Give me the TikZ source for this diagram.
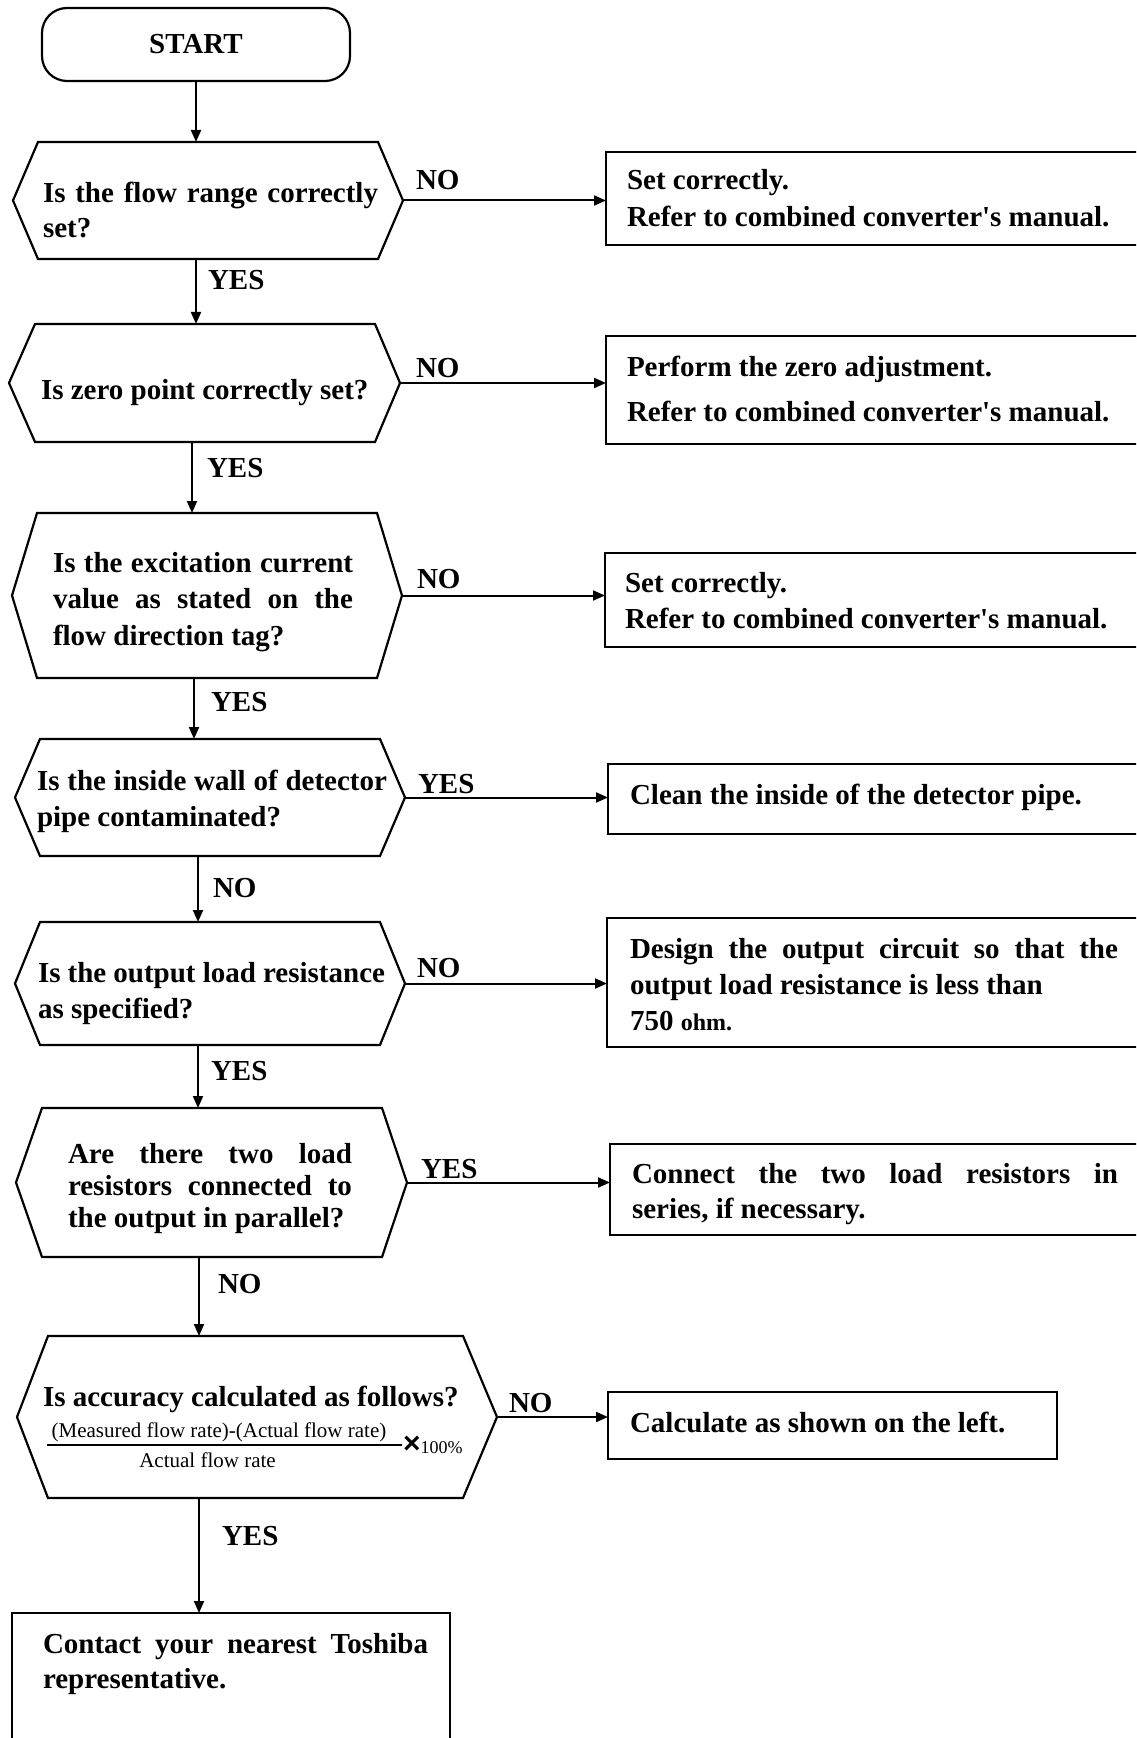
\documentclass[tikz,border=0pt]{standalone}
\usepackage{fontspec}
\setmainfont{Liberation Serif}
\newfontfamily\symfont{Liberation Sans}
\usetikzlibrary{arrows.meta,calc}
\newcommand\lsk[1]{\fontsize{14.5pt}{#1pt}\selectfont}
\newcommand\jl[2]{\makebox[#1pt][s]{#2}}
\newcommand\hexdec[7]{%
  \node[hexnode, minimum width=#4pt, minimum height=#5pt] (#1) at (#2,#3) {};
  \draw[shp] (#1.north west) -- (#1.north east) -- ($(#1.east)+(#7,0)$) coordinate (#1r)
    -- (#1.south east) -- (#1.south west) -- ($(#1.west)+(-#6,0)$) coordinate (#1l) -- cycle;}
\begin{document}
\begin{tikzpicture}[x=0.5pt,y=-0.5pt,
  shp/.style={draw=black, line width=1.1pt},
  hexnode/.style={inner sep=0pt, outer sep=0pt},
  boxnode/.style={draw=black, line width=1.1pt, inner sep=0pt, outer sep=0pt, anchor=north west},
  txt/.style={inner sep=0pt, outer sep=0pt, anchor=base west, font=\bfseries\fontsize{14.5pt}{18pt}\selectfont},
  small/.style={inner sep=0pt, outer sep=0pt, anchor=base, font=\fontsize{10.5pt}{12pt}\selectfont},
  arr/.style={line width=1pt, -{Triangle[length=6pt,width=5pt]}},
]
\useasboundingbox (0,0) rectangle (1136,1738);
\fill[white] (0,0) rectangle (1136,1738);
\clip (0,0) rectangle (1136,1738);

% start
\node[draw=black, line width=1.1pt, rounded corners=12.5pt, minimum width=154pt, minimum height=36.5pt,
      inner sep=0pt, outer sep=0pt, anchor=north west, font=\bfseries\fontsize{14.5pt}{18pt}\selectfont] (start) at (42,8) {START};

% decisions
\hexdec{d1}{208}{200.5}{170}{58.5}{25}{25}
\hexdec{d2}{205}{383}{170}{59}{26}{25}
\hexdec{d3}{207}{595.5}{170}{82.5}{25}{25}
\hexdec{d4}{210}{797.5}{170}{58.5}{25}{25}
\hexdec{d5}{210}{983.5}{170}{61.5}{25}{25}
\hexdec{d6}{212}{1182.5}{170}{74.5}{26}{25}
\hexdec{d7}{255.5}{1417}{207.5}{81}{31}{34}

% decision texts
\node[txt] (t1) at (43,203) {\lsk{17.5}\parbox[t]{167.5pt}{\jl{167.5}{Is the flow range correctly}\\set?}};
\node[txt] (t2) at (41,400) {Is zero point correctly set?};
\node[txt] (t3) at (53,572) {\lsk{18.25}\parbox[t]{150pt}{\jl{150}{Is the excitation current}\\\jl{150}{value as stated on the}\\flow direction tag?}};
\node[txt] (t4) at (37,790) {\lsk{18}\parbox[t]{175pt}{\jl{175}{Is the inside wall of detector}\\pipe contaminated?}};
\node[txt] (t5) at (38,982) {\lsk{18}\parbox[t]{173.5pt}{\jl{173.5}{Is the output load resistance}\\as specified?}};
\node[txt] (t6) at (68,1163) {\lsk{16}\parbox[t]{142pt}{\jl{142}{Are there two load}\\\jl{142}{resistors connected to}\\the output in parallel?}};
\node[txt] (t7) at (43,1406) {Is accuracy calculated as follows?};
\node[small] (num) at (219,1437) {(Measured flow rate)-(Actual flow rate)};
\draw[line width=1pt] (47,1445) -- (402,1445);
\node[small] (den) at (207.5,1467) {Actual flow rate};
\node[inner sep=0pt, outer sep=0pt, anchor=base west] (pct) at (403,1453)
  {{\symfont\bfseries\fontsize{15pt}{16pt}\selectfont ×}{\fontsize{9pt}{10pt}\selectfont 100\%}};

% boxes
\node[boxnode, minimum width=269.5pt, minimum height=46.5pt] (b1) at (606,152) {};
\node[boxnode, minimum width=269.5pt, minimum height=54pt] (b2) at (606,336) {};
\node[boxnode, minimum width=270pt, minimum height=47pt] (b3) at (605,553) {};
\node[boxnode, minimum width=268.5pt, minimum height=35pt] (b4) at (608,764) {};
\node[boxnode, minimum width=269pt, minimum height=64.5pt] (b5) at (607,918) {};
\node[boxnode, minimum width=267.5pt, minimum height=45.5pt] (b6) at (610,1144) {};
\node[boxnode, minimum width=224.5pt, minimum height=33.5pt] (b7) at (608,1392) {};
\node[boxnode, minimum width=219pt, minimum height=70pt] (b8) at (12,1613) {};

% box texts
\node[txt] (tb1) at (627,190) {\lsk{18.5}\parbox[t]{250pt}{Set correctly.\\Refer to combined converter\textquotesingle s manual.}};
\node[txt] (tb2) at (627,376) {\lsk{22.5}\parbox[t]{250pt}{Perform the zero adjustment.\\Refer to combined converter\textquotesingle s manual.}};
\node[txt] (tb3) at (625,592) {\lsk{18}\parbox[t]{250pt}{Set correctly.\\Refer to combined converter\textquotesingle s manual.}};
\node[txt] (tb4) at (630,804) {Clean the inside of the detector pipe.};
\node[txt] (tb5) at (630,958) {\lsk{18}\parbox[t]{244pt}{\jl{244}{Design the output circuit so that the}\\output load resistance is less than\\750 {\fontsize{12pt}{12pt}\selectfont ohm.}}};
\node[txt] (tb6) at (632,1183) {\lsk{17.5}\parbox[t]{243pt}{\jl{243}{Connect the two load resistors in}\\series, if necessary.}};
\node[txt] (tb7) at (630,1432) {Calculate as shown on the left.};
\node[txt] (tb8) at (43,1653) {\lsk{17.5}\parbox[t]{192.5pt}{\jl{192.5}{Contact your nearest Toshiba}\\representative.}};

% connector x positions
\coordinate (xa) at (196,0);
\coordinate (xb) at (192,0);
\coordinate (xc) at (194,0);
\coordinate (xd) at (198,0);
\coordinate (xe) at (199,0);

% down connectors
\draw[arr] (start.south -| xa) -- (d1.north -| xa);
\draw[arr] (d1.south -| xa) -- (d2.north -| xa);
\draw[arr] (d2.south -| xb) -- (d3.north -| xb);
\draw[arr] (d3.south -| xc) -- (d4.north -| xc);
\draw[arr] (d4.south -| xd) -- (d5.north -| xd);
\draw[arr] (d5.south -| xd) -- (d6.north -| xd);
\draw[arr] (d6.south -| xe) -- (d7.north -| xe);
\draw[arr] (d7.south -| xe) -- (b8.north -| xe);

% right connectors
\draw[arr] (d1r) -- (d1r -| b1.west);
\draw[arr] (d2r) -- (d2r -| b2.west);
\draw[arr] (d3r) -- (d3r -| b3.west);
\draw[arr] (d4r) -- (d4r -| b4.west);
\draw[arr] (d5r) -- (d5r -| b5.west);
\draw[arr] (d6r) -- (d6r -| b6.west);
\draw[arr] (d7r) -- (d7r -| b7.west);

% labels
\node[txt] (y1) at (208,290) {YES};
\node[txt] (n1) at (416,190) {NO};
\node[txt] (y2) at (207,477) {YES};
\node[txt] (n2) at (416,378) {NO};
\node[txt] (y3) at (211,711) {YES};
\node[txt] (n3) at (417,588) {NO};
\node[txt] (y4) at (418,793) {YES};
\node[txt] (n4) at (213,897) {NO};
\node[txt] (y5) at (211,1080) {YES};
\node[txt] (n5) at (417,977) {NO};
\node[txt] (y6) at (421,1178) {YES};
\node[txt] (n6) at (218,1293) {NO};
\node[txt] (n7) at (509,1412) {NO};
\node[txt] (y7) at (222,1545) {YES};
\end{tikzpicture}
\end{document}
